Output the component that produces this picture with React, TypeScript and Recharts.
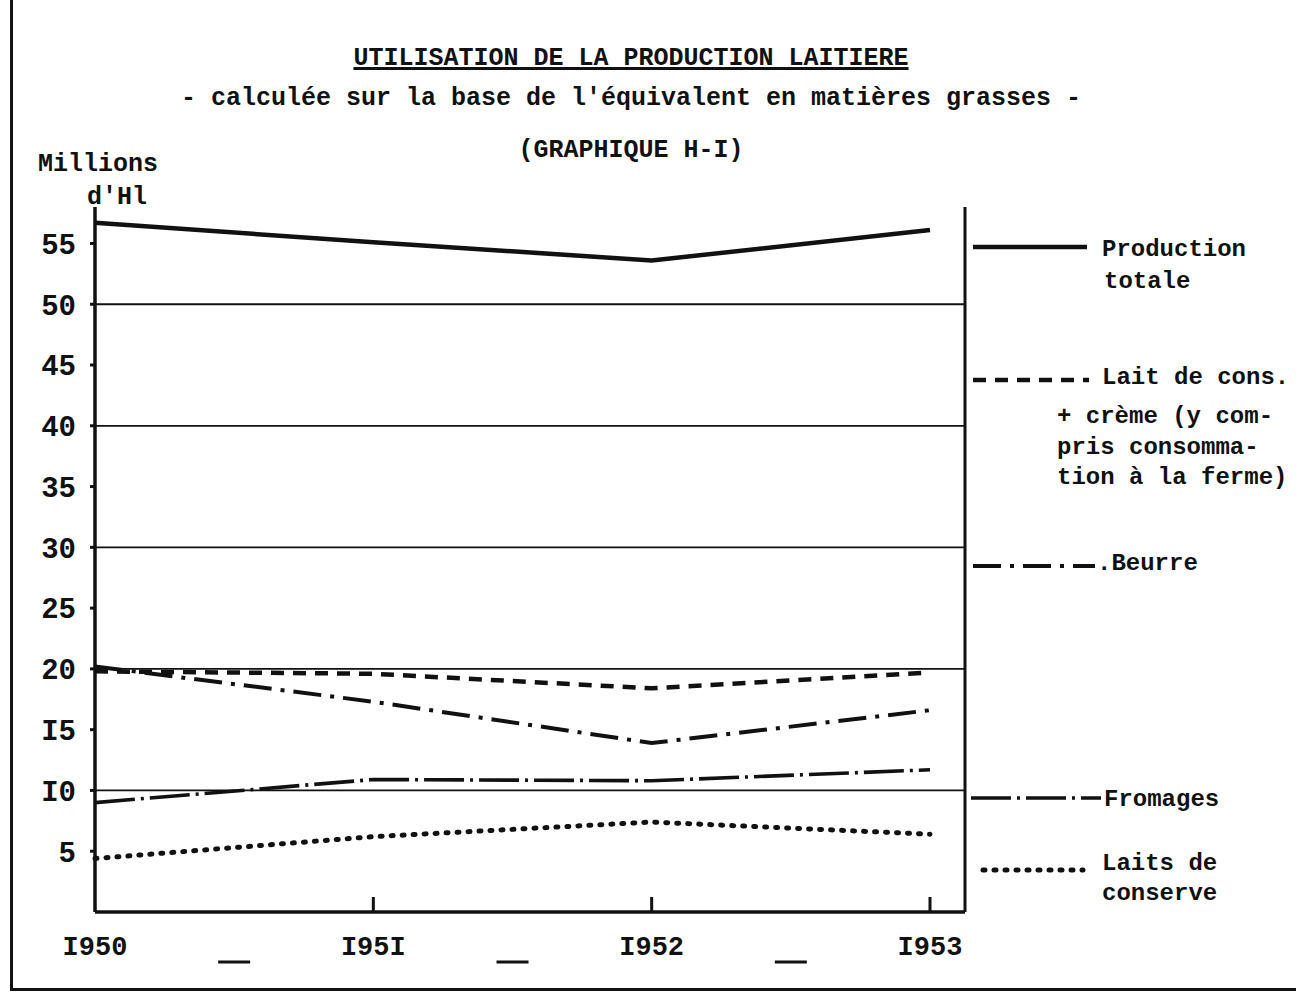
import { LineChart, Line, XAxis, YAxis, ReferenceLine, Legend } from 'recharts';

// valeurs (millions d'hl)
const YEARS = [1950, 1951, 1952, 1953];
const PRODUCTION_TOTALE = [56.7, 55.1, 53.6, 56.1];
const LAIT_CONSOMMATION = [19.8, 19.6, 18.4, 19.7];
const BEURRE = [20.2, 17.3, 13.9, 16.6];
const FROMAGES = [9.0, 10.9, 10.8, 11.7];
const LAITS_CONSERVE = [4.4, 6.2, 7.4, 6.4];

const YEAR_LABELS = ['I950', 'I95I', 'I952', 'I953'];
const X_TICKS = [1950, 1950.5, 1951, 1951.5, 1952, 1952.5, 1953];
const Y_TICKS = [5, 10, 15, 20, 25, 30, 35, 40, 45, 50, 55];
const Y_LABELS = ['5', 'I0', 'I5', '20', '25', '30', '35', '40', '45', '50', '55'];
const GRID_VALUES = [10, 20, 30, 40, 50];
const PCT_LABELS = ['I00%', '36%', '32%', '20%', 'I2%'];

const INK = '#111';
const FONT = "'Liberation Mono', 'DejaVu Sans Mono', monospace";

const data = YEARS.map((year, i) => ({
    year,
    total: PRODUCTION_TOTALE[i],
    consommation: LAIT_CONSOMMATION[i],
    beurre: BEURRE[i],
    fromages: FROMAGES[i],
    conserve: LAITS_CONSERVE[i],
}));

// dernier point de chaque série -> étiquette en % sur l'axe de droite
const lastValues = [PRODUCTION_TOTALE, LAIT_CONSOMMATION, BEURRE, FROMAGES, LAITS_CONSERVE].map(s => s[s.length - 1]);
const pctByValue: Record<string, string> = {};
lastValues.forEach((v, i) => { pctByValue[String(v)] = PCT_LABELS[i]; });

const STYLES = {
    total: { dash: undefined, width: 4.5 },
    consommation: { dash: '13 9', width: 4.5 },
    beurre: { dash: '28 9 4 9', width: 4 },
    fromages: { dash: '40 6 3 6', width: 3.6 },
    conserve: { dash: '2 9', width: 5 },
};

const textStyle = { fontFamily: FONT, fontWeight: 700, fontSize: 25, fill: INK } as const;

const YearTick = (props: any) => {
    const { x, y, payload } = props;
    const v = payload.value;
    const idx = YEARS.indexOf(v);
    if (idx < 0) {
        return <line x1={x - 16} x2={x + 16} y1={y + 50} y2={y + 50} stroke={INK} strokeWidth={3} />;
    }
    return (
        <g>
            {idx > 0 && <line x1={x} x2={x} y1={y} y2={y - 15} stroke={INK} strokeWidth={3} />}
            <text x={x} y={y + 43} textAnchor="middle" {...textStyle} fontSize={27}>{YEAR_LABELS[idx]}</text>
        </g>
    );
};

const PctTick = (props: any) => {
    const { x, y, payload } = props;
    return <text x={x} y={y + 8} textAnchor="start" {...textStyle}>{pctByValue[String(payload.value)]}</text>;
};

// légende dessinée à droite de l'axe des %
const LegendBox = () => {
    const sample = (key: keyof typeof STYLES, x1: number, x2: number, y: number) => (
        <line x1={x1} x2={x2} y1={y} y2={y} stroke={INK} strokeWidth={STYLES[key].width}
            strokeDasharray={STYLES[key].dash} strokeLinecap={key === 'conserve' ? 'round' : 'butt'} />
    );
    const t = (x: number, y: number, s: string) => (
        <text x={x} y={y + 8} {...textStyle} fontSize={24}>{s}</text>
    );
    return (
        <svg width={331} height={720}>
            {sample('total', 8, 122, 57)}
            {t(137, 58, 'Production')}
            {t(139, 90, 'totale')}

            {sample('consommation', 8, 124, 190)}
            {t(137, 186, 'Lait de cons.')}
            {t(92, 225, '+ crème (y com-')}
            {t(92, 256, 'pris consomma-')}
            {t(92, 286, 'tion à la ferme)')}

            {sample('beurre', 8, 130, 376)}
            {t(132, 372, '.Beurre')}

            {sample('fromages', 6, 136, 608)}
            {t(139, 608, 'Fromages')}

            {sample('conserve', 18, 118, 680)}
            {t(137, 672, 'Laits de')}
            {t(137, 702, 'conserve')}
        </svg>
    );
};

export default function App() {
    return (
        <div style={{ position: 'absolute', left: 0, top: 0, width: 1296, height: 994, background: '#fff', overflow: 'hidden' }}>
            {/* cadre de la page scannée */}
            <div style={{ position: 'absolute', left: 10, top: 0, width: 1290, height: 988, borderLeft: `3px solid ${INK}`, borderBottom: `3px solid ${INK}` }} />

            <div style={{ position: 'absolute', left: 0, width: 1262, top: 44, textAlign: 'center', fontFamily: FONT, fontWeight: 700, fontSize: 25, color: INK }}>
                <span style={{ textDecoration: 'underline', textDecorationThickness: 3 }}>UTILISATION DE LA PRODUCTION LAITIERE</span>
            </div>
            <div style={{ position: 'absolute', left: 0, width: 1262, top: 84, textAlign: 'center', fontFamily: FONT, fontWeight: 700, fontSize: 25, color: INK }}>
                - calculée sur la base de l'équivalent en matières grasses -
            </div>
            <div style={{ position: 'absolute', left: 0, width: 1262, top: 136, textAlign: 'center', fontFamily: FONT, fontWeight: 700, fontSize: 25, color: INK }}>
                (GRAPHIQUE H-I)
            </div>
            <div style={{ position: 'absolute', left: 38, top: 150, fontFamily: FONT, fontWeight: 700, fontSize: 25, color: INK }}>Millions</div>
            <div style={{ position: 'absolute', left: 87, top: 183, fontFamily: FONT, fontWeight: 700, fontSize: 25, color: INK }}>d'Hl</div>

            <div style={{ position: 'absolute', left: 0, top: 0 }}>
                <LineChart width={1296} height={994} data={data} margin={{ top: 207, right: 271, bottom: 42, left: 0 }}>
                    <XAxis dataKey="year" type="number" domain={[1950, 1953]} ticks={X_TICKS} interval={0}
                        padding={{ left: 0, right: 35 }} height={40} tickSize={0} tickMargin={0}
                        axisLine={{ stroke: INK, strokeWidth: 3.5 }} tickLine={false} tick={<YearTick />} />
                    <YAxis yAxisId="left" width={95} domain={[0, 58]} ticks={Y_TICKS} interval={0}
                        tickFormatter={(v: number) => Y_LABELS[Y_TICKS.indexOf(v)]}
                        axisLine={{ stroke: INK, strokeWidth: 3.5 }} tickLine={{ stroke: INK, strokeWidth: 3 }}
                        tickSize={5} tickMargin={14} tick={{ ...textStyle, fontSize: 29 }} />
                    <YAxis yAxisId="right" orientation="right" width={60} domain={[0, 58]} ticks={lastValues} interval={0}
                        axisLine={{ stroke: INK, strokeWidth: 3 }} tickLine={false} tickSize={0} tickMargin={4}
                        tick={<PctTick />} />

                    {GRID_VALUES.map(v => (
                        <ReferenceLine key={v} yAxisId="left" y={v} stroke={INK} strokeWidth={1.8} />
                    ))}

                    <Line yAxisId="left" dataKey="total" name="Production totale" stroke={INK}
                        strokeWidth={STYLES.total.width} dot={false} isAnimationActive={false} />
                    <Line yAxisId="left" dataKey="consommation" name="Lait de consommation + crème" stroke={INK}
                        strokeWidth={STYLES.consommation.width} strokeDasharray={STYLES.consommation.dash} dot={false} isAnimationActive={false} />
                    <Line yAxisId="left" dataKey="beurre" name="Beurre" stroke={INK}
                        strokeWidth={STYLES.beurre.width} strokeDasharray={STYLES.beurre.dash} dot={false} isAnimationActive={false} />
                    <Line yAxisId="left" dataKey="fromages" name="Fromages" stroke={INK}
                        strokeWidth={STYLES.fromages.width} strokeDasharray={STYLES.fromages.dash} dot={false} isAnimationActive={false} />
                    <Line yAxisId="left" dataKey="conserve" name="Laits de conserve" stroke={INK}
                        strokeWidth={STYLES.conserve.width} strokeDasharray={STYLES.conserve.dash} strokeLinecap="round"
                        dot={false} isAnimationActive={false} />

                    <Legend layout="vertical" align="center" verticalAlign="middle" content={<LegendBox />}
                        wrapperStyle={{ position: 'absolute', left: 965, top: 190, width: 331, height: 720 }} />
                </LineChart>
            </div>
        </div>
    );
}
